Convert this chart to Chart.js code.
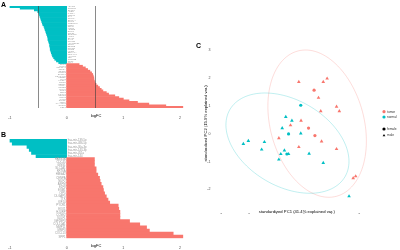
<!DOCTYPE html>
<html>
<head>
<meta charset="utf-8">
<script src="https://cdn.jsdelivr.net/npm/chart.js@4.4.0/dist/chart.umd.min.js"></script>
<style>
	html, body { margin: 0; padding: 0; background: #fff; }
	#wrap { position: relative; width: 400px; height: 250px; overflow: hidden; font-family: "Liberation Sans", Arial, sans-serif; }
	canvas { position: absolute; }
	.tag { position: absolute; font-weight: bold; font-size: 7px; line-height: 7px; color: #000; }
</style>
</head>
<body>
<div id="wrap">
	<canvas id="chartA" width="200" height="120" style="left:0;top:0"></canvas>
	<canvas id="chartB" width="200" height="125" style="left:0;top:125px"></canvas>
	<canvas id="chartC" width="200" height="190" style="left:200px;top:30px"></canvas>
	<div class="tag" style="left:1px;top:1px">A</div>
	<div class="tag" style="left:1px;top:131px">B</div>
	<div class="tag" style="left:196px;top:42px">C</div>
</div>
<script>
const TEAL = '#00BFC4';
const RED = '#F8766D';

// panel A: all DE genes
const genesDownA = ['ADH1B', 'CLDN18', 'SFTPC', 'AGER', 'FABP4', 'TNNC1', 'CA4', 'GPM6A', 'SLC6A4', 'CLIC5',
	'TMEM100', 'FCN3', 'CDH5', 'VIPR1', 'ADRB2', 'EMP2', 'TCF21', 'SPOCK2', 'AOC3', 'STX11',
	'CAV1', 'PTPRB', 'ARHGEF26', 'GRK5', 'EDNRB', 'RTKN2', 'LIMS2', 'HPGD', 'SEMA6A', 'PECAM1',
	'ACVRL1', 'TEK', 'CLEC3B', 'NPR1', 'KLF4'];
const logfcDownA = [-1.00, -0.82, -0.57, -0.51, -0.49, -0.48, -0.47, -0.46, -0.45, -0.44,
	-0.43, -0.42, -0.40, -0.39, -0.38, -0.37, -0.36, -0.35, -0.34, -0.33,
	-0.33, -0.32, -0.31, -0.30, -0.30, -0.29, -0.29, -0.28, -0.27, -0.26,
	-0.25, -0.23, -0.21, -0.18, -0.14];
const genesUpA = ['SPP1', 'MMP1', 'COL11A1', 'TOP2A', 'CDC20', 'MMP12', 'SPINK1', 'CEACAM5', 'UBE2C', 'TPX2',
	'KIF20A', 'BIRC5', 'CENPF', 'AURKA', 'CCNB2', 'MKI67', 'PRC1', 'NEK2', 'FOXM1', 'CDKN3',
	'RRM2', 'TYMS', 'ZWINT', 'MELK', 'KIAA0101', 'GPR87', 'CST1'];
const logfcUpA = [0.22, 0.28, 0.33, 0.37, 0.41, 0.44, 0.46, 0.47, 0.48, 0.48,
	0.49, 0.50, 0.52, 0.55, 0.58, 0.61, 0.64, 0.70, 0.74, 0.85,
	0.92, 1.00, 1.10, 1.25, 1.45, 1.75, 2.05];
const cutoffsA = [-0.5, 0.5];

// panel B: selected genes
const genesDownB = ['hsa-mir-139-5p', 'hsa-mir-486-5p', 'hsa-mir-30a-3p', 'hsa-mir-143-3p', 'hsa-mir-451a', 'hsa-mir-144'];
const logfcDownB = [-1.00, -0.96, -0.70, -0.66, -0.62, -0.54];
const genesUpB = ['FAM83A', 'CDC45', 'GINS1', 'SLC2A1', 'KRT6A', 'HMGA2', 'CENPA', 'NUF2', 'ASPM', 'E2F8',
	'ESM1', 'OIP5', 'DLGAP5', 'TTK', 'KIF14', 'PYCR1', 'EXO1', 'HJURP', 'CCNE2', 'SULF1',
	'IGF2BP3', 'COL10A1', 'MMP11', 'MMP3', 'CXCL13', 'SPP1'];
const logfcUpB = [0.49, 0.49, 0.49, 0.52, 0.52, 0.55, 0.58, 0.59, 0.61, 0.64,
	0.65, 0.67, 0.70, 0.73, 0.76, 0.91, 0.92, 0.94, 0.94, 0.94,
	1.11, 1.29, 1.41, 1.46, 1.88, 2.05];
const logfcTicks = [-1, 0, 1, 2];

// panel C: PCA scores
const tumorPC1 = [-0.18, 0.70, 0.84, 0.37, 0.53, 0.61, 1.18, 1.28, -0.10, -0.48, 0.17, 0.40, -0.90, 0.64, -0.18, 1.18, 1.78, 1.87];
const tumorPC2 = [1.86, 1.86, 1.98, 1.56, 1.29, 0.81, 0.97, 0.81, 0.47, 0.30, 0.20, -0.07, -0.16, -0.28, -0.48, -0.55, -1.60, -1.53];
const tumorSex = ['m', 'm', 'm', 'f', 'm', 'm', 'm', 'm', 'm', 'm', 'f', 'f', 'm', 'm', 'm', 'm', 'm', 'm'];
const normalPC1 = [-0.11, -0.65, -0.43, -0.78, -0.55, -0.11, -2.00, -2.18, -1.42, -1.52, -0.70, -0.83, -0.61, -0.55, 0.19, -0.90, 0.70, 1.63];
const normalPC2 = [1.02, 0.60, 0.47, 0.20, -0.01, 0.01, -0.26, -0.37, -0.30, -0.57, -0.60, -0.73, -0.73, -0.73, -0.72, -0.93, -1.05, -2.25];
const normalSex = ['f', 'm', 'm', 'm', 'f', 'm', 'm', 'm', 'm', 'm', 'm', 'm', 'f', 'm', 'm', 'm', 'm', 'm'];
const pc1Ticks = [-3, -2, -1, 0, 1, 2];
const pc2Ticks = [-2, -1, 0, 1, 2, 3];
// normal-probability ellipses: centre, semi axes, tilt (degrees)
const ellipseNormal = [-0.59, -0.34, 2.4, 1.55, -30];
const ellipseTumor = [0.48, 0.36, 2.7, 1.69, -75];

const tickFont = { family: 'Liberation Sans', size: 3.6 };

// gene names written next to the zero line
const geneLabels = {
	id: 'geneLabels',
	afterDatasetsDraw(chart, args, opts) {
		const { ctx, scales: { x, y } } = chart;
		const x0 = x.getPixelForValue(0);
		const vals = chart.data.datasets[0].data;
		ctx.save();
		ctx.font = opts.size + 'px "Liberation Sans"';
		ctx.fillStyle = '#9a9a9a';
		ctx.textBaseline = 'middle';
		chart.data.labels.forEach((g, i) => {
			const py = y.getPixelForValue(i);
			if (vals[i] < 0) {
				ctx.textAlign = 'left';
				ctx.fillText(g, x0 + 1, py);
			} else {
				ctx.textAlign = 'right';
				ctx.fillText(g, x0 - 1, py);
			}
		});
		ctx.restore();
	}
};

const cutLines = {
	id: 'cutLines',
	afterDatasetsDraw(chart, args, opts) {
		if (!opts.values) return;
		const { ctx, chartArea, scales: { x } } = chart;
		ctx.save();
		ctx.strokeStyle = 'rgba(60,60,60,0.6)';
		ctx.lineWidth = 1;
		opts.values.forEach(v => {
			const px = Math.round(x.getPixelForValue(v)) + 0.5;
			ctx.beginPath();
			ctx.moveTo(px, chartArea.top);
			ctx.lineTo(px, chartArea.bottom);
			ctx.stroke();
		});
		ctx.restore();
	}
};

function barChart(id, genes, values, pad, axisH, labelSize, cutoffs) {
	return new Chart(document.getElementById(id), {
		type: 'bar',
		data: {
			labels: genes,
			datasets: [{
				data: values,
				backgroundColor: values.map(v => (v < 0 ? TEAL : RED)),
				borderWidth: 0,
				barPercentage: 1,
				categoryPercentage: 1,
			}],
		},
		options: {
			indexAxis: 'y',
			responsive: false,
			animation: false,
			layout: { padding: pad },
			plugins: {
				legend: { display: false },
				tooltip: { enabled: false },
				geneLabels: { size: labelSize },
				cutLines: { values: cutoffs },
			},
			scales: {
				y: { display: false },
				x: {
					min: -1.07,
					max: 2.106,
					grid: { display: false },
					border: { display: false },
					afterBuildTicks: s => { s.ticks = logfcTicks.map(v => ({ value: v })); },
					afterFit: s => { s.height = axisH; },
					ticks: { font: tickFont, color: '#4d4d4d', padding: 0, maxRotation: 0 },
					title: { display: true, text: 'logFC', font: { family: 'Liberation Sans', size: 4 }, color: '#000', padding: { top: 0, bottom: 1.8 } },
				},
			},
		},
		plugins: [geneLabels, cutLines],
	});
}

barChart('chartA', genesDownA.concat(genesUpA), logfcDownA.concat(logfcUpA),
	{ left: 6, right: 14, top: 6, bottom: 0 }, 12, 2.2, cutoffsA);
barChart('chartB', genesDownB.concat(genesUpB), logfcDownB.concat(logfcUpB),
	{ left: 6, right: 14, top: 14, bottom: 0 }, 11.7, 2.8, null);

// panel C
const ellipses = {
	id: 'ellipses',
	beforeDatasetsDraw(chart, args, opts) {
		const { ctx, scales: { x, y } } = chart;
		ctx.save();
		ctx.lineWidth = 0.9;
		opts.items.forEach(([cx, cy, a, b, deg, color]) => {
			const th = deg * Math.PI / 180;
			ctx.strokeStyle = color;
			ctx.beginPath();
			for (let k = 0; k <= 120; k++) {
				const t = k / 120 * 2 * Math.PI;
				const dx = a * Math.cos(t) * Math.cos(th) - b * Math.sin(t) * Math.sin(th);
				const dy = a * Math.cos(t) * Math.sin(th) + b * Math.sin(t) * Math.cos(th);
				const px = x.getPixelForValue(cx + dx);
				const py = y.getPixelForValue(cy + dy);
				if (k === 0) ctx.moveTo(px, py); else ctx.lineTo(px, py);
			}
			ctx.stroke();
		});
		ctx.restore();
	}
};

const sideLegend = {
	id: 'sideLegend',
	afterDraw(chart) {
		const { ctx } = chart;
		const rows = [
			['tumor', RED, 'circle', 81.7],
			['normal', TEAL, 'circle', 87],
			['female', '#000', 'circle', 99],
			['male', '#000', 'triangle', 105.5],
		];
		ctx.save();
		ctx.font = '3.2px "Liberation Sans"';
		ctx.textBaseline = 'middle';
		ctx.textAlign = 'left';
		rows.forEach(([txt, col, style, py]) => {
			ctx.fillStyle = col;
			ctx.strokeStyle = col;
			Chart.helpers.drawPoint(ctx, { pointStyle: style, radius: 1.6, borderWidth: 0 }, 184, py);
			ctx.fillStyle = '#333';
			ctx.fillText(txt, 187, py);
		});
		ctx.restore();
	}
};

function pcaSet(xs, ys, sex, want, color, style, r) {
	const pts = [];
	xs.forEach((v, i) => { if (sex[i] === want) pts.push({ x: v, y: ys[i] }); });
	return { data: pts, pointStyle: style, backgroundColor: color, borderColor: color, borderWidth: 0, pointRadius: r };
}

new Chart(document.getElementById('chartC'), {
	type: 'scatter',
	data: {
		datasets: [
			pcaSet(tumorPC1, tumorPC2, tumorSex, 'f', RED, 'circle', 1.6),
			pcaSet(tumorPC1, tumorPC2, tumorSex, 'm', RED, 'triangle', 2.1),
			pcaSet(normalPC1, normalPC2, normalSex, 'f', TEAL, 'circle', 1.6),
			pcaSet(normalPC1, normalPC2, normalSex, 'm', TEAL, 'triangle', 2.1),
		],
	},
	options: {
		responsive: false,
		animation: false,
		layout: { padding: { left: 0, right: 26, top: 14, bottom: 6 } },
		plugins: {
			legend: { display: false },
			tooltip: { enabled: false },
			ellipses: {
				items: [
					ellipseTumor.concat(['rgba(248,118,109,0.28)']),
					ellipseNormal.concat(['rgba(0,191,196,0.28)']),
				],
			},
		},
		scales: {
			x: {
				min: -3.04,
				max: 2.53,
				grid: { display: false },
				border: { display: false },
				afterBuildTicks: s => { s.ticks = pc1Ticks.map(v => ({ value: v })); },
				afterFit: s => { s.height = 11; },
				ticks: { font: tickFont, color: '#4d4d4d', padding: 2, maxRotation: 0 },
				title: { display: true, text: 'standardized PC1 (41.4% explained var.)', font: { family: 'Liberation Sans', size: 4.2 }, color: '#000', padding: 0 },
			},
			y: {
				min: -2.49,
				max: 3.22,
				grid: { display: false },
				border: { display: false },
				afterBuildTicks: s => { s.ticks = pc2Ticks.map(v => ({ value: v })); },
				afterFit: s => { s.width = 19.5; },
				ticks: { font: tickFont, color: '#4d4d4d', padding: 1 },
				title: { display: true, text: 'standardized PC2 (15.9% explained var.)', font: { family: 'Liberation Sans', size: 4.2 }, color: '#000', padding: { top: 3, bottom: 0 } },
			},
		},
	},
	plugins: [ellipses, sideLegend],
});
</script>
</body>
</html>
